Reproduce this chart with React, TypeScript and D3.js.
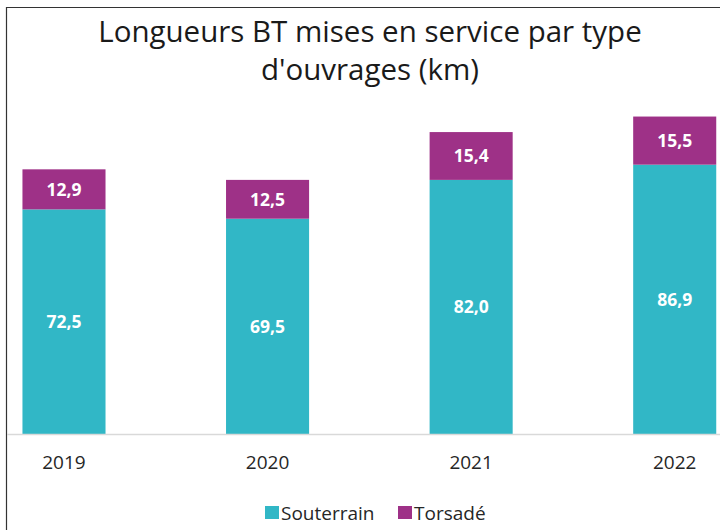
import React from 'react';
import * as d3 from 'd3';

const years = ['2019', '2020', '2021', '2022'];
const souterrain = [72.5, 69.5, 82.0, 86.9];
const torsade = [12.9, 12.5, 15.4, 15.5];
const seriesNames = ['Souterrain', 'Torsadé'];
const titleLines = ['Longueurs BT mises en service par type', "d'ouvrages (km)"];

const colors = ['#31B7C6', '#9E3187'];
const font = '"Open Sans", Lato, sans-serif';

const W = 720;
const H = 530;

const fmt = (v: number) => v.toFixed(1).replace('.', ',');

const App = () => {
  const rows = years.map((y, i) => ({ year: y, Souterrain: souterrain[i], 'Torsadé': torsade[i] }));
  const stacked = d3.stack<any>().keys(seriesNames)(rows);

  const x = d3.scaleBand()
    .domain(years)
    .range([-37.8, 776.5])
    .paddingInner(0.592)
    .paddingOuter(0.296);

  const y = d3.scaleLinear()
    .domain([0, 120])
    .range([434.5, 61.9]);

  return (
    <svg width={W} height={H} style={{ position: 'absolute', left: 0, top: 0, background: '#fff' }}>
      <rect x={0} y={0} width={W} height={H} fill="#fff" />
      {/* chart border (cropped on right and bottom) */}
      <path d={`M6.5,${H} V7.5 H${W}`} fill="none" stroke="#333" strokeWidth={1.2} />

      {titleLines.map((t, i) => (
        <text key={t} x={370} y={42 + i * 38} textAnchor="middle" fontFamily={font}
          fontSize={29.5} fill="#1a1a1a">{t}</text>
      ))}

      {stacked.map((s, si) => (
        <g key={s.key} fill={colors[si]}>
          {s.map((d, i) => (
            <rect key={i} x={x(years[i])} y={y(d[1])} width={x.bandwidth()}
              height={y(d[0]) - y(d[1])} />
          ))}
        </g>
      ))}

      {stacked.map((s, si) => (
        <g key={s.key + '-lbl'}>
          {s.map((d, i) => (
            <text key={i} x={x(years[i])! + x.bandwidth() / 2} y={(y(d[0]) + y(d[1])) / 2}
              dy="0.36em" textAnchor="middle" fontFamily={font} fontWeight={700}
              fontSize={17.5} fill="#fff">{fmt(d[1] - d[0])}</text>
          ))}
        </g>
      ))}

      <line x1={7} x2={W} y1={434.5} y2={434.5} stroke="#d9d9d9" strokeWidth={1.5} />

      {years.map(yr => (
        <text key={yr} x={x(yr)! + x.bandwidth() / 2} y={462} dy="0.36em" textAnchor="middle"
          fontFamily={font} fontSize={19} fill="#262626">{yr}</text>
      ))}

      {seriesNames.map((n, i) => {
        const lx = [265, 398][i];
        return (
          <g key={n}>
            <rect x={lx} y={506} width={14} height={13} fill={colors[i]} />
            <text x={lx + 16} y={513} dy="0.36em" fontFamily={font} fontSize={19} fill="#262626">{n}</text>
          </g>
        );
      })}
    </svg>
  );
};

export default App;
